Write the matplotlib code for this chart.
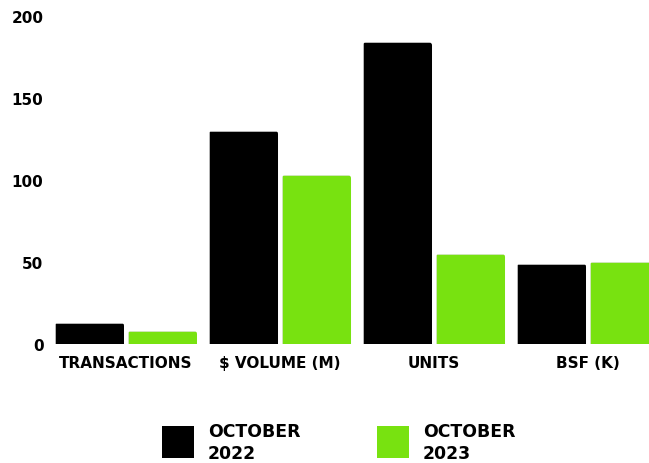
import numpy as np
import matplotlib.pyplot as plt
from matplotlib.patches import Rectangle, FancyBboxPatch

# datos
categories = ['TRANSACTIONS', '$ VOLUME (M)', 'UNITS', 'BSF (K)']
oct_2022 = [13, 130, 184, 49]
oct_2023 = [8, 103, 55, 50]
series_labels = ['OCTOBER\n2022', 'OCTOBER\n2023']

black = '#000000'
green = '#78E210'

plt.rcParams['font.family'] = ['DejaVu Sans']
plt.rcParams['font.weight'] = 'bold'

fig = plt.figure(figsize=(6.49, 4.64), dpi=100)
ax = fig.add_axes([49 / 649, 119 / 464, 1 - 49 / 649, 328 / 464])

x = np.arange(len(categories))
w = 0.448
off = 0.237
bars1 = ax.bar(x - off, oct_2022, width=w, color=black, edgecolor='#dddddd', linewidth=0.4)
bars2 = ax.bar(x + off, oct_2023, width=w, color=green, edgecolor='#dddddd', linewidth=0.4)

ax.set_xlim(-0.5, 3.396)
ax.set_ylim(0, 200)

# esquinas de arriba redondeadas (clip con una caja redondeada que baja del cero)
r = 0.02
aspect = (200 / 328) / (3.896 / 600)
for b in list(bars1) + list(bars2):
    bx, bw, bh = b.get_x(), b.get_width(), b.get_height()
    clip = FancyBboxPatch((bx, -20), bw, bh + 20,
                          boxstyle='round,pad=0,rounding_size=%f' % r,
                          mutation_aspect=aspect, transform=ax.transData)
    b.set_clip_path(clip)

ax.set_yticks([0, 50, 100, 150, 200])
ax.set_xticks(x)
ax.set_xticklabels(categories)
ax.tick_params(axis='both', length=0)
ax.tick_params(axis='y', labelsize=11, pad=4)
ax.tick_params(axis='x', labelsize=11, pad=8)
for s in ax.spines.values():
    s.set_visible(False)

# leyenda hecha a mano abajo
W, H = 649.0, 464.0
for i, (c, lab) in enumerate(zip([black, green], series_labels)):
    x0 = 162 + i * 215
    fig.add_artist(Rectangle((x0 / W, (H - 459) / H), 32 / W, 32 / H,
                             transform=fig.transFigure, facecolor=c, edgecolor='none'))
    fig.text((x0 + 46) / W, (H - 443) / H, lab, fontsize=12.4, ha='left', va='center',
             linespacing=1.3)

fig.savefig('out.png', dpi=100)
